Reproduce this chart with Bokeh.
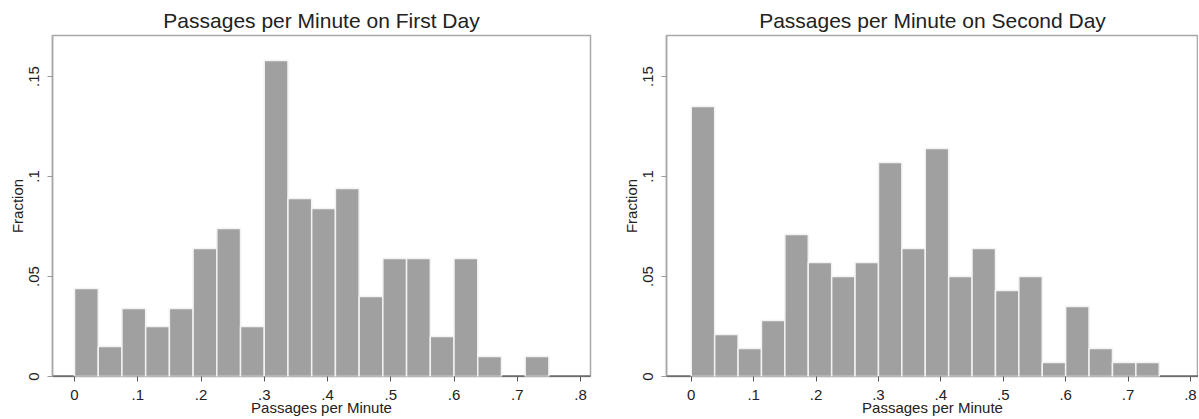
from bokeh.plotting import figure
from bokeh.layouts import row
from bokeh.models import ColumnDataSource, FixedTicker, Span, Range1d
from bokeh.embed import file_html
from bokeh.resources import INLINE

# Histogram bins (left edges), width 0.0375
bin_starts = [0.0, 0.0375, 0.075, 0.1125, 0.15, 0.1875, 0.225, 0.2625, 0.3, 0.3375,
              0.375, 0.4125, 0.45, 0.4875, 0.525, 0.5625, 0.6, 0.6375, 0.675, 0.7125]
bin_width = 0.0375

first_day = [0.044, 0.015, 0.034, 0.025, 0.034, 0.064, 0.074, 0.025, 0.158, 0.089,
             0.084, 0.094, 0.040, 0.059, 0.059, 0.020, 0.059, 0.010, 0.0, 0.010]
second_day = [0.135, 0.021, 0.014, 0.028, 0.071, 0.057, 0.050, 0.057, 0.107, 0.064,
              0.114, 0.050, 0.064, 0.043, 0.050, 0.007, 0.035, 0.014, 0.007, 0.007]

x_ticks = [0, 0.1, 0.2, 0.3, 0.4, 0.5, 0.6, 0.7, 0.8]
x_tick_labels = ["0", ".1", ".2", ".3", ".4", ".5", ".6", ".7", ".8"]
y_ticks = [0, 0.05, 0.1, 0.15]
y_tick_labels = ["0", ".05", ".1", ".15"]

titles = ["Passages per Minute on First Day", "Passages per Minute on Second Day"]
x_label = "Passages per Minute"
y_label = "Fraction"

FONT = "Liberation Sans"
BAR = "#a0a0a0"
FRAME = "#a8a8a8"


def make_hist(title, values, x_start, x_end, frame_w, border_left, border_right):
    p = figure(output_backend="svg", toolbar_location=None,
               frame_width=frame_w, frame_height=341,
               min_border_left=border_left, min_border_right=border_right,
               min_border_top=35, min_border_bottom=43,
               x_range=Range1d(x_start, x_end), y_range=Range1d(0, 0.1705),
               title=title)
    p.title.text_font = FONT
    p.title.text_font_size = "21px"
    p.title.text_font_style = "normal"
    p.title.text_color = "#222222"
    p.title.align = "center"
    p.title.standoff = 7

    p.xgrid.visible = False
    p.ygrid.visible = False
    p.background_fill_color = "white"
    p.border_fill_color = "white"
    p.outline_line_color = FRAME
    p.outline_line_width = 1.5

    # dark baseline at zero (visible where bins are empty)
    p.add_layout(Span(location=0, dimension="width", line_color="#333333",
                      line_width=2, level="underlay"))

    lefts = [b for b, v in zip(bin_starts, values) if v > 0]
    tops = [v for v in values if v > 0]
    rights = [b + bin_width for b in lefts]
    src = ColumnDataSource(dict(left=lefts, right=rights, top=tops,
                                bottom=[0] * len(tops)))
    p.quad(left="left", right="right", top="top", bottom="bottom", source=src,
           fill_color=BAR, line_color="#f2f2f2", line_width=1.5)

    xa = p.xaxis[0]
    xa.ticker = FixedTicker(ticks=x_ticks)
    xa.major_label_overrides = {t: l for t, l in zip(x_ticks, x_tick_labels)}
    xa.minor_tick_line_color = None
    xa.axis_line_color = None
    xa.major_tick_line_color = "#555555"
    xa.major_tick_out = 5
    xa.major_tick_in = 0
    xa.major_label_standoff = 8
    xa.major_label_text_font = FONT
    xa.major_label_text_font_size = "15px"
    xa.major_label_text_color = "#222222"
    xa.axis_label = x_label
    xa.axis_label_standoff = -4
    xa.axis_label_text_font = FONT
    xa.axis_label_text_font_size = "15px"
    xa.axis_label_text_font_style = "normal"
    xa.axis_label_text_color = "#222222"

    ya = p.yaxis[0]
    ya.ticker = FixedTicker(ticks=y_ticks)
    ya.major_label_overrides = {t: l for t, l in zip(y_ticks, y_tick_labels)}
    ya.minor_tick_line_color = None
    ya.axis_line_color = FRAME
    ya.axis_line_width = 1.5
    ya.major_tick_line_color = "#999999"
    ya.major_tick_out = 5
    ya.major_tick_in = 0
    ya.major_label_orientation = "vertical"
    ya.major_label_standoff = 9
    ya.major_label_text_font = FONT
    ya.major_label_text_font_size = "15px"
    ya.major_label_text_color = "#222222"
    ya.axis_label = y_label
    ya.axis_label_standoff = 0
    ya.axis_label_text_font = FONT
    ya.axis_label_text_font_size = "15px"
    ya.axis_label_text_font_style = "normal"
    ya.axis_label_text_color = "#222222"
    return p


p1 = make_hist(titles[0], first_day, -0.0348, 0.8158, 538, 52, 28)
p2 = make_hist(titles[1], second_day, -0.0397, 0.8129, 532, 48, 0)

layout = row(p1, p2)
open("out.html", "w").write(file_html(layout, INLINE))
